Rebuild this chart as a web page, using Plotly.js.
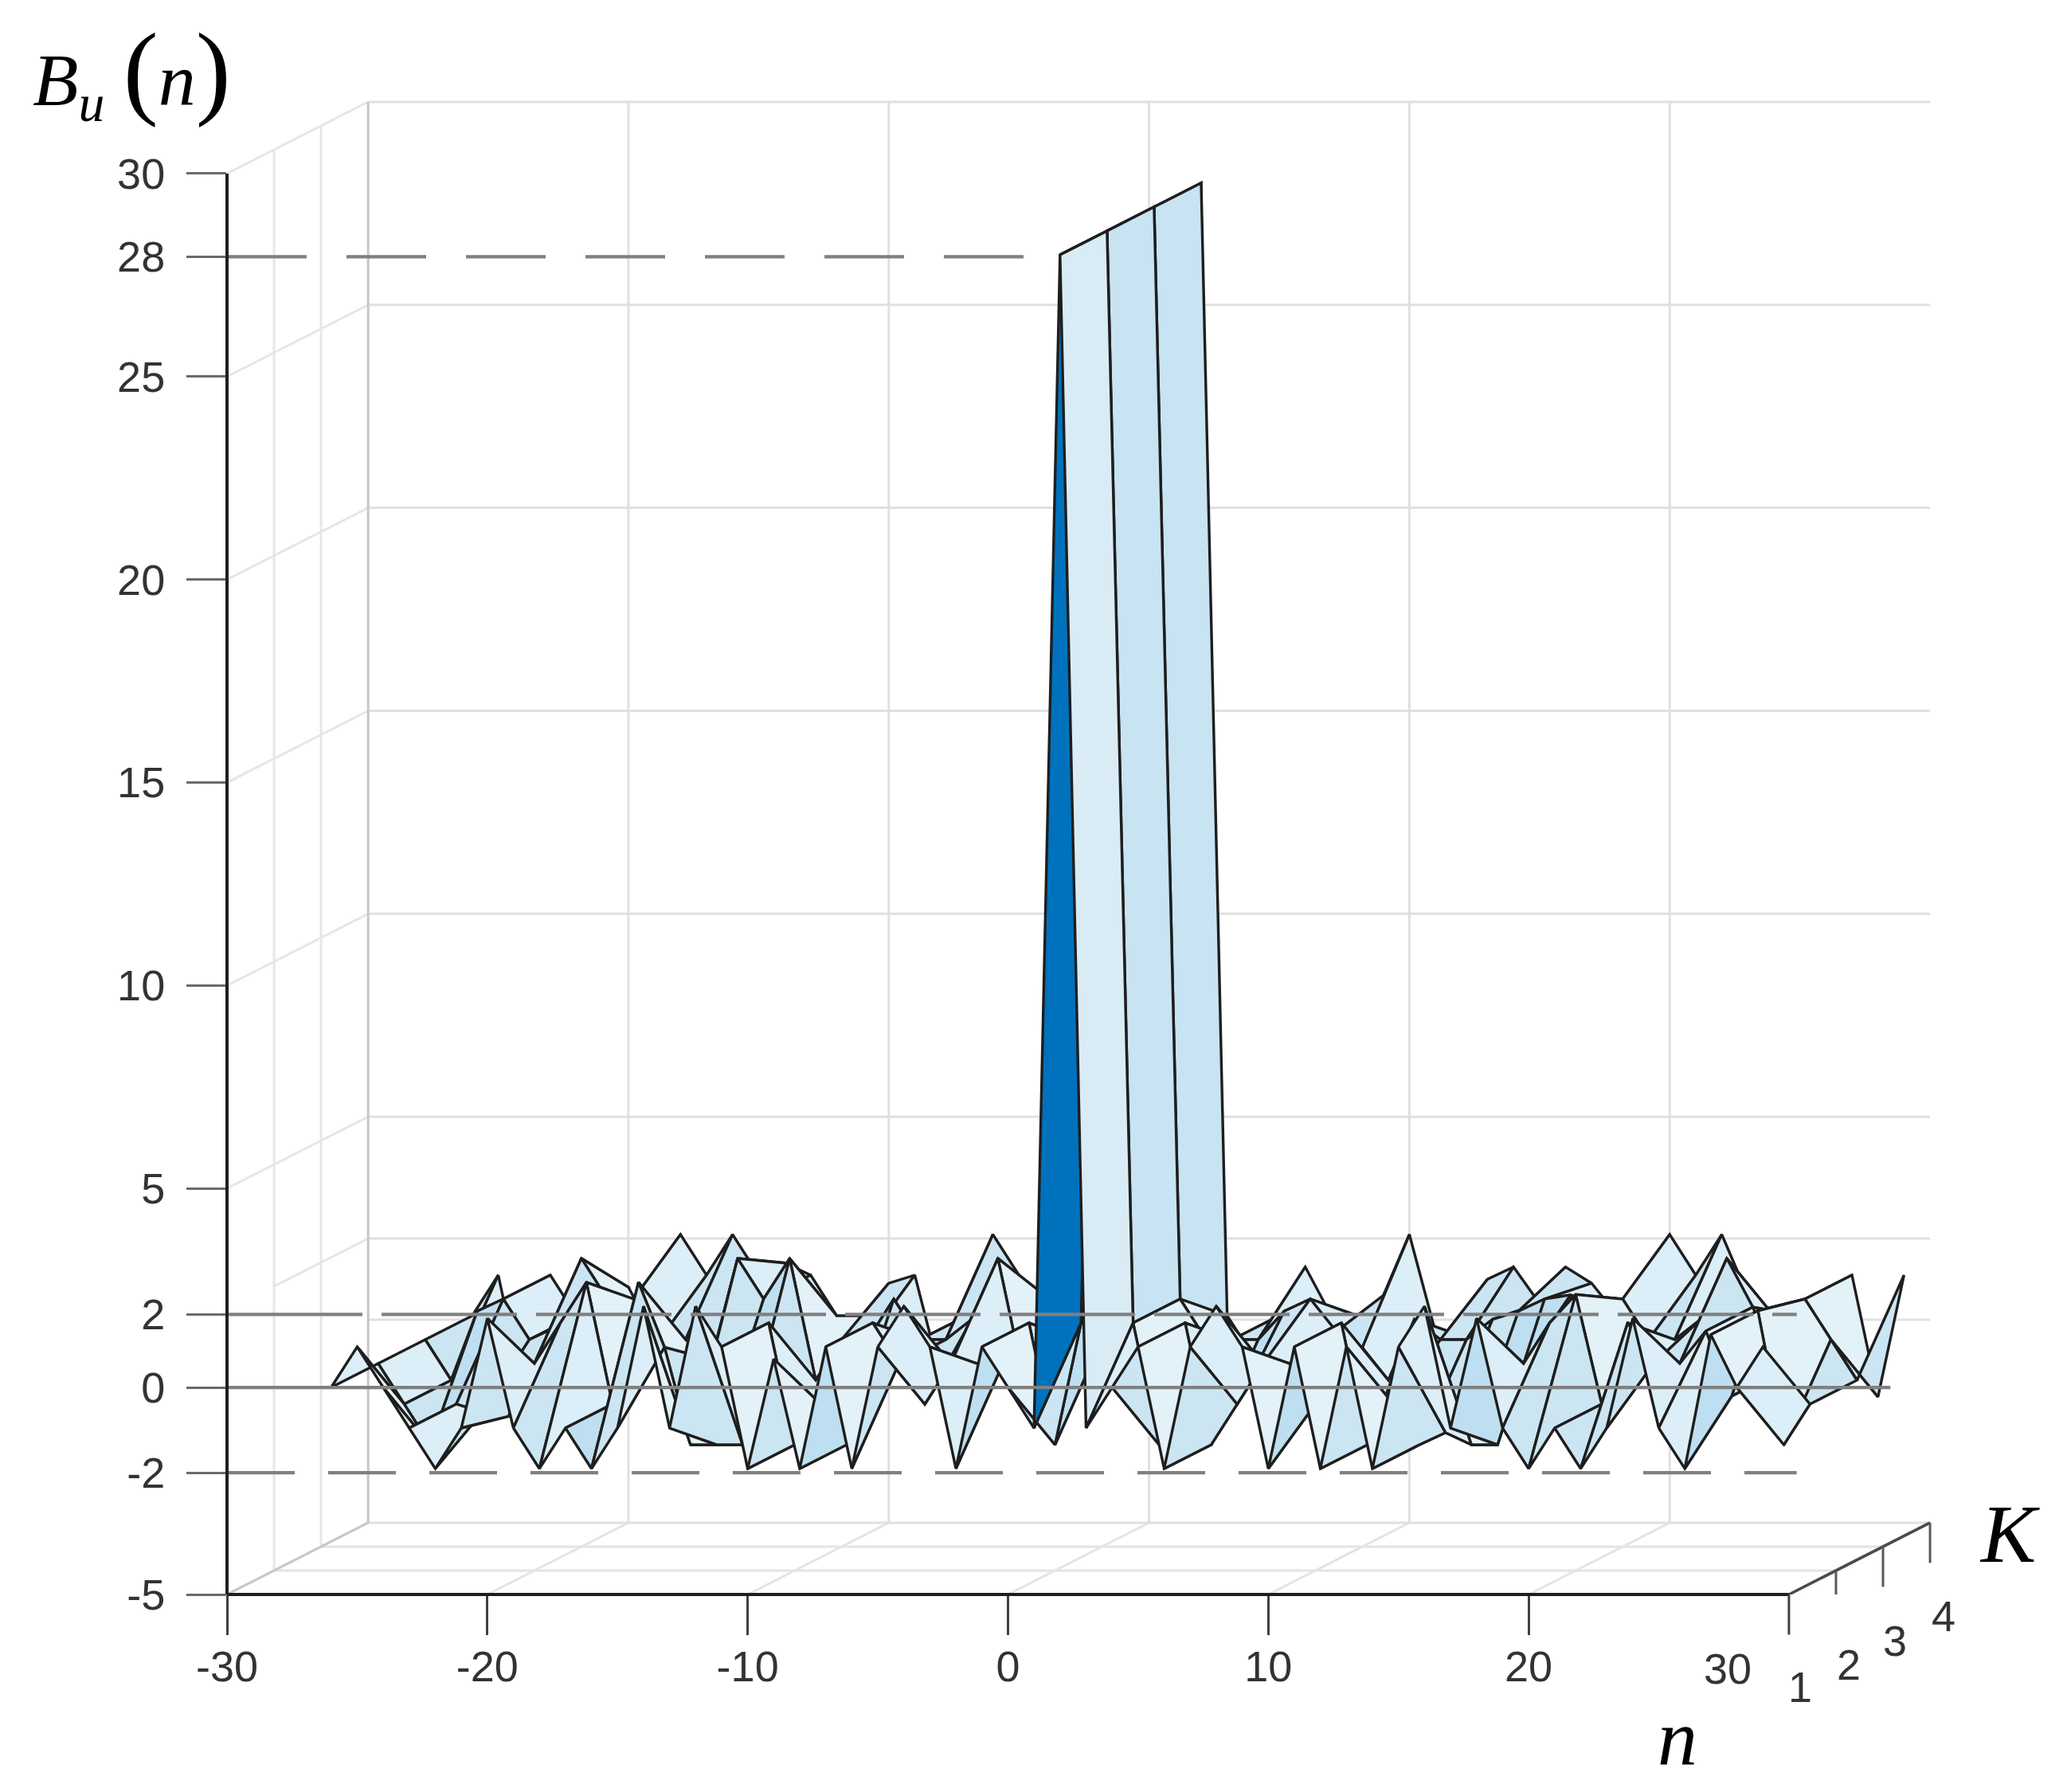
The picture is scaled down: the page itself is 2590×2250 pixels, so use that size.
<!DOCTYPE html>
<html><head><meta charset="utf-8">
<script src="https://cdn.plot.ly/plotly-3.0.1.min.js"></script>
<style>html,body{margin:0;padding:0;background:#fff}</style></head>
<body><div id="chart"></div>
<script>
// ---- data ----
const lags = [-26,-25,-24,-23,-22,-21,-20,-19,-18,-17,-16,-15,-14,-13,-12,-11,-10,-9,-8,-7,-6,-5,-4,-3,-2,-1,0,1,2,3,4,5,6,7,8,9,10,11,12,13,14,15,16,17,18,19,20,21,22,23,24,25,26,27,28,29];
const rowK1 = [0,1,0,-1,-2,-1,1.7,-1,-2,-1,-2,-1,2,-1,2,1,-2,0.7,-2,1,-2,1,2,1,-2,1,0,-1,27.9,-1,0,1,-2,1,2,1,-2,1,-2,1,-2,1,2,-1,1.7,-1,-2,-1,-2,-1,1.7,-1,-2,1.3,0,1];
const rowK2 = [0,-1,-2,-1,-1.2,-1.3,0,1,2,-1,2,0.4,-2,-2,-2,1,-2,-1,-2,1,0,-1,0,0,0,1,-2,1,27.9,1,-2,1,-2,-1,0,0,-1,1,-2,-1,-2,-1.7,-2,-2,0,1,1.7,-1,1,0,0,0.8,-0.8,1.3,-2,-1];
const rowK3 = [0,-1,0.7,1,0,0.3,2,1,1,0,0,-0.5,2,1,2,-1,0,0,1,0,0,0.5,2,-1,0,0,0,0,27.9,1,0,0,0,0.7,1,0.2,-0.2,-1,0.5,0,0,0.5,0.7,1,1.1,-1.2,1,0,0,0.5,2,0.8,-0.8,1,0,-1];
const rowK4 = [0,1,-2,1,0,0,0.7,-0.5,2,1,2,1,1.3,1,0,0,0.8,1,-1.5,0,2,1,0.5,0.2,0.2,0.2,0.2,0,27.9,0,-1,0,1.2,0,0,0.5,2,-0.4,-0.5,0.9,1.2,0.3,1.2,0.8,0,-0.5,2,1,2,0.5,0,0,0,1,-2,1];
const rows = [rowK1, rowK2, rowK3, rowK4];
const kLevels = [1,2,3,4];
const kTickLabels = ['1','2','3','4'];
const nTicks = [-30,-20,-10,0,10,20];
const nTickLabels = ['-30','-20','-10','0','10','20'];
const nLastLabel = '30';
const zTickVals = [-5,-2,0.1,1.9,5,10,15,20,25,27.95,30];
const zTickLabels = ['-5','-2','0','2','5','10','15','20','25','28','30'];
const zGrid = [-5,0,2,5,10,15,20,25,30];
const nInnerGrid = [-20,-10,0,10,20];
const guideDashed = [{z:27.95,from:-30,to:2,dash:'100px,50px'},{z:1.9,from:-30,to:30.3,dash:'170px,24px'},{z:-2,from:-30,to:30.3,dash:'85px,42px'}];
const guideSolid = {z:0.1,from:-30,to:33.9};

// ---- oblique view of the box ----
const K_X = 1.807, K_Y = 0.589, K_TICK = 0.99;
const px = (n,k)=> n + K_X*(k-1);
const py = (z,k)=> z + K_Y*(k-1);
const sz = z => z+0.1;

const M = {l:285,r:148,t:116,b:248}, W=2590, H=2250;
const XR=[-30,36], YR=[-5,32];
const pw = W-M.l-M.r, ph = H-M.t-M.b;
const pageX = x=>(x-M.l)/pw, pageY = y=>(H-M.b-y)/ph;
const fracX = n=>(n-XR[0])/(XR[1]-XR[0]), fracY = z=>(z-YR[0])/(YR[1]-YR[0]);

const traces = [];
function segs(list, opts){
  const xs=[],ys=[];
  list.forEach(s=>{xs.push(s[0],s[2],null);ys.push(s[1],s[3],null);});
  traces.push(Object.assign({type:'scatter',mode:'lines',x:xs,y:ys,hoverinfo:'skip',showlegend:false},{line:opts}));
}
// walls and floor
const ZMIN=-5, ZMAX=30, NMIN=-30, NMAX=30;
let back=[], side=[], floor=[];
zGrid.forEach(z=>{ back.push([px(NMIN,4),py(z,4),px(NMAX,4),py(z,4)]); if(z>-5&&z!==0&&z!==2) side.push([px(NMIN,1),py(z,1),px(NMIN,4),py(z,4)]); });
side.push([px(NMIN,2),py(2,2),px(NMIN,4),py(2,4)]);
nInnerGrid.forEach(n=>{ back.push([px(n,4),py(ZMIN,4),px(n,4),py(ZMAX,4)]); floor.push([px(n,1),py(ZMIN,1),px(n,4),py(ZMIN,4)]); });
[2,3].forEach(k=>{ side.push([px(NMIN,k),py(ZMIN,k),px(NMIN,k),py(ZMAX,k)]); floor.push([px(NMIN,k),py(ZMIN,k),px(NMAX,k),py(ZMIN,k)]); });
segs(side,{color:'#e6e6e6',width:3});
segs(floor,{color:'#e4e4e4',width:3});
segs(back,{color:'#e0e0e0',width:3});
segs([[px(NMIN,4),py(ZMIN,4),px(NMIN,4),py(ZMAX,4)],[px(NMIN,1),py(ZMIN,1),px(NMIN,4),py(ZMIN,4)]],{color:'#c6c6c6',width:3});

// surface: far strips first, left to right inside a strip
function faceColor(rise, kRise, strip){
  if(rise>15) return '#0072BD';
  if(rise<-15) return strip===0 ? '#D9ECF6' : '#C8E3F2';
  const s = rise + 0.5*kRise;
  if(s>1.5) return '#BEDFF1';
  if(s>0) return '#CBE5F3';
  if(s>-1.5) return '#DCEEF7';
  return '#E3F1F9';
}
for(let s=2;s>=0;s--){
  const a=rows[s], b=rows[s+1], k0=kLevels[s], k1=kLevels[s+1];
  for(let i=0;i<lags.length-1;i++){
    const n0=lags[i], n1=lags[i+1];
    const rise=((a[i+1]-a[i])+(b[i+1]-b[i]))/2, kRise=((b[i]-a[i])+(b[i+1]-a[i+1]))/2;
    traces.push({type:'scatter',mode:'lines',fill:'toself',fillcolor:faceColor(rise,kRise,s),
      x:[px(n0,k0),px(n1,k0),px(n1,k1),px(n0,k1),px(n0,k0)],
      y:[py(sz(a[i]),k0),py(sz(a[i+1]),k0),py(sz(b[i+1]),k1),py(sz(b[i]),k1),py(sz(a[i]),k0)],
      line:{color:'#1e1e1e',width:3.4},hoverinfo:'skip',showlegend:false});
  }
}
// guides
guideDashed.forEach(g=>segs([[g.from,g.z,g.to,g.z]],{color:'#808080',width:4.2,dash:g.dash}));
segs([[guideSolid.from,guideSolid.z,guideSolid.to,guideSolid.z]],{color:'#808080',width:4.2});
// depth axis and its ticks (those above the plot floor)
segs([[px(NMAX,1),py(ZMIN,1),px(NMAX,4),py(ZMIN,4)]],{color:'#4a4a4a',width:3.6});
segs(kLevels.slice(1).map(k=>[px(NMAX,k),py(ZMIN,k),px(NMAX,k),py(ZMIN,k)-K_TICK]),{color:'#5a5a5a',width:3});

// front axis lines sit on the plot edge, so they are paper-anchored shapes (never clipped)
const shapes=[
 {type:'line',xref:'paper',yref:'paper',x0:fracX(NMIN),x1:fracX(NMIN),y0:fracY(ZMIN),y1:fracY(ZMAX),line:{color:'#1f1f1f',width:4}},
 {type:'line',xref:'paper',yref:'paper',x0:fracX(NMIN),x1:fracX(NMAX),y0:fracY(ZMIN),y1:fracY(ZMIN),line:{color:'#1f1f1f',width:4}},
 {type:'line',xref:'paper',yref:'paper',x0:fracX(NMAX),x1:fracX(NMAX),y0:fracY(ZMIN),y1:fracY(ZMIN-K_TICK),line:{color:'#404040',width:3}}
];

const labelFont={family:'Liberation Sans, Arial, sans-serif',size:54,color:'#333333'};
const serif={family:'Liberation Serif, Times New Roman, serif',size:100,color:'#000000'};
const ann=(text,x,y,font)=>({text,xref:'paper',yref:'paper',x:pageX(x),y:pageY(y),xanchor:'center',yanchor:'middle',showarrow:false,font});
const labelPos=[[2260,2118],[2321,2090],[2379,2060],[2440,2029]];
const annotations=kTickLabels.map((t,i)=>ann(t,labelPos[i][0],labelPos[i][1],labelFont));
annotations.push(ann(nLastLabel,2169,2095,labelFont));
annotations.push(ann('<i>K</i>',2523,1925,Object.assign({},serif,{size:104})));
annotations.push(ann('<i>n</i>',2106,2181,Object.assign({},serif,{size:100})));
annotations.push(ann('<i>B</i><sub><i>u</i></sub> <span style="font-size:132px">(</span><i>n</i><span style="font-size:132px">)</span>',165,90,Object.assign({},serif,{size:94})));

const layout={width:W,height:H,margin:M,paper_bgcolor:'#fff',plot_bgcolor:'#fff',showlegend:false,
  xaxis:{range:XR,tickmode:'array',tickvals:nTicks,ticktext:nTickLabels,ticks:'outside',ticklen:50,tickwidth:3,tickcolor:'#404040',
    showgrid:false,zeroline:false,showline:false,ticklabelstandoff:-7,tickfont:labelFont,tickangle:0},
  yaxis:{range:YR,tickmode:'array',tickvals:zTickVals,ticktext:zTickLabels,ticks:'outside',ticklen:50,tickwidth:3,tickcolor:'#6a6a6a',
    showgrid:false,zeroline:false,showline:false,ticklabelstandoff:16,tickfont:labelFont},
  shapes,annotations};
Plotly.newPlot('chart',traces,layout,{staticPlot:true,displayModeBar:false});
</script></body></html>
